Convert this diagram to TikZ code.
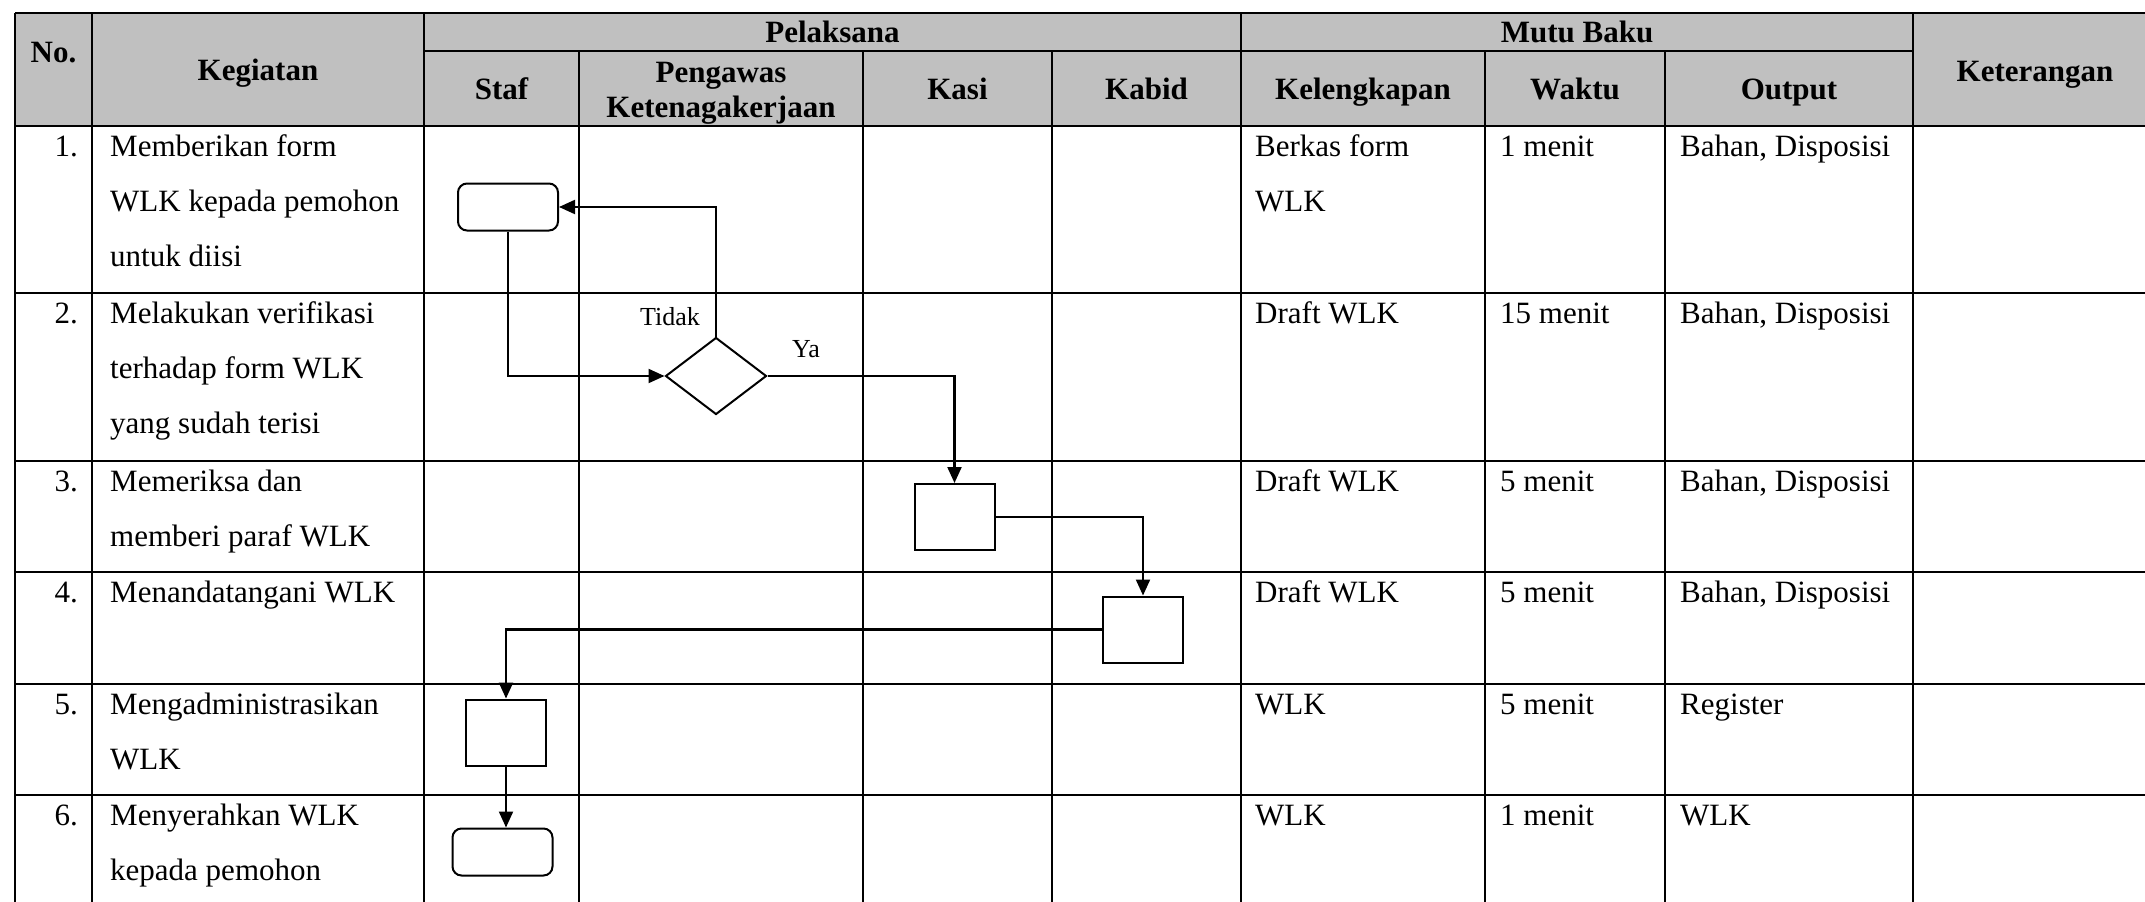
\documentclass[tikz,border=0pt]{standalone}
\usepackage{fontspec}
\setmainfont{Liberation Serif}
\usetikzlibrary{arrows.meta,shapes.geometric}
\definecolor{hdr}{RGB}{192,192,192}
\newcommand\celltxt[1]{\parbox[t]{360pt}{\fontsize{31}{55}\selectfont\raggedright #1}}
\newcommand\hdrtxt[1]{\parbox[t]{300pt}{\fontsize{31}{35}\selectfont\bfseries\centering #1}}
\begin{document}
\begin{tikzpicture}[x=1pt,y=-1pt,
  grid/.style={line width=2.2pt},
  body/.style={inner sep=0pt, anchor=base west},
  num/.style={inner sep=0pt, anchor=base east, font=\fontsize{31}{37}\selectfont},
  hb/.style={inner sep=0pt, anchor=base, font=\fontsize{31}{37}\selectfont\bfseries},
  shp/.style={draw, line width=2pt, inner sep=0pt},
  term/.style={shp, rounded corners=9pt, minimum width=100pt, minimum height=47pt},
  proc/.style={shp, minimum width=80pt, minimum height=66pt},
  dec/.style={shp, diamond, minimum width=101pt, minimum height=77pt},
  flow/.style={line width=2.1pt, -{Triangle[length=16pt,width=14pt]}},
  lab/.style={inner sep=0pt, anchor=base, font=\fontsize{26}{30}\selectfont}
]
\useasboundingbox (0,0) rectangle (2145,902);
% header background
\fill[hdr] (15,13) rectangle (2165,126);
% grid
\draw[grid] (15,13) -- (2165,13);
\draw[grid] (424,51) -- (1913,51);
\foreach \y in {126,293,461,572,684,795,906} \draw[grid] (15,\y) -- (2165,\y);
\foreach \x in {15,92,424,1241,1913,2165} \draw[grid] (\x,13) -- (\x,906);
\foreach \x in {579,863,1052,1485,1665} \draw[grid] (\x,51) -- (\x,906);

% header texts
\node[hb] (hno) at (53.5,62) {No.};
\node[hb] (hkeg) at (258,80) {Kegiatan};
\node[hb] (hpel) at (832.5,42) {Pelaksana};
\node[hb] (hmutu) at (1577,42) {Mutu Baku};
\node[hb] (hket) at (2035,81) {Keterangan};
\node[hb] (hstaf) at (501.5,99) {Staf};
\node[inner sep=0pt, anchor=base] (hpeng) at (721,82) {\hdrtxt{Pengawas\\Ketenagakerjaan}};
\node[hb] (hkasi) at (957.5,99) {Kasi};
\node[hb] (hkabid) at (1146.5,99) {Kabid};
\node[hb] (hkel) at (1363,99) {Kelengkapan};
\node[hb] (hwak) at (1575,99) {Waktu};
\node[hb] (hout) at (1789,99) {Output};

% row 1
\node[num] (n1) at (78,156) {1.};
\node[body] (k1) at (110,156) {\celltxt{Memberikan form\\WLK kepada pemohon\\untuk diisi}};
\node[body] (l1) at (1255,156) {\celltxt{Berkas form\\WLK}};
\node[body] (w1) at (1500,156) {\celltxt{1 menit}};
\node[body] (o1) at (1680,156) {\celltxt{Bahan, Disposisi}};
% row 2
\node[num] (n2) at (78,323) {2.};
\node[body] (k2) at (110,323) {\celltxt{Melakukan verifikasi\\terhadap form WLK\\yang sudah terisi}};
\node[body] (l2) at (1255,323) {\celltxt{Draft WLK}};
\node[body] (w2) at (1500,323) {\celltxt{15 menit}};
\node[body] (o2) at (1680,323) {\celltxt{Bahan, Disposisi}};
% row 3
\node[num] (n3) at (78,491) {3.};
\node[body] (k3) at (110,491) {\celltxt{Memeriksa dan\\memberi paraf WLK}};
\node[body] (l3) at (1255,491) {\celltxt{Draft WLK}};
\node[body] (w3) at (1500,491) {\celltxt{5 menit}};
\node[body] (o3) at (1680,491) {\celltxt{Bahan, Disposisi}};
% row 4
\node[num] (n4) at (78,602) {4.};
\node[body] (k4) at (110,602) {\celltxt{Menandatangani WLK}};
\node[body] (l4) at (1255,602) {\celltxt{Draft WLK}};
\node[body] (w4) at (1500,602) {\celltxt{5 menit}};
\node[body] (o4) at (1680,602) {\celltxt{Bahan, Disposisi}};
% row 5
\node[num] (n5) at (78,714) {5.};
\node[body] (k5) at (110,714) {\celltxt{Mengadministrasikan\\WLK}};
\node[body] (l5) at (1255,714) {\celltxt{WLK}};
\node[body] (w5) at (1500,714) {\celltxt{5 menit}};
\node[body] (o5) at (1680,714) {\celltxt{Register}};
% row 6
\node[num] (n6) at (78,825) {6.};
\node[body] (k6) at (110,825) {\celltxt{Menyerahkan WLK\\kepada pemohon}};
\node[body] (l6) at (1255,825) {\celltxt{WLK}};
\node[body] (w6) at (1500,825) {\celltxt{1 menit}};
\node[body] (o6) at (1680,825) {\celltxt{WLK}};

% flow shapes
\node[term] (s) at (508,207) {};
\node[dec] (d) at (716,376) {};
\node[proc] (b3) at (954.5,517) {};
\node[proc] (b4) at (1143,629.5) {};
\node[proc] (b5) at (506,732.5) {};
\node[term] (e) at (502.5,852) {};

% connectors
\draw[flow] (s.south) |- (d.west);
\draw[flow] (d.north) |- (s.east);
\draw[flow] (d.east) -| (b3.north);
\draw[flow] (b3.east) -| (b4.north);
\draw[flow] (b4.west) -| (b5.north);
\draw[flow] (b5.south) -- (b5.south |- e.north);

% labels
\node[lab] (tidak) at (670,325) {Tidak};
\node[lab] (ya) at (806,357) {Ya};
\end{tikzpicture}
\end{document}
